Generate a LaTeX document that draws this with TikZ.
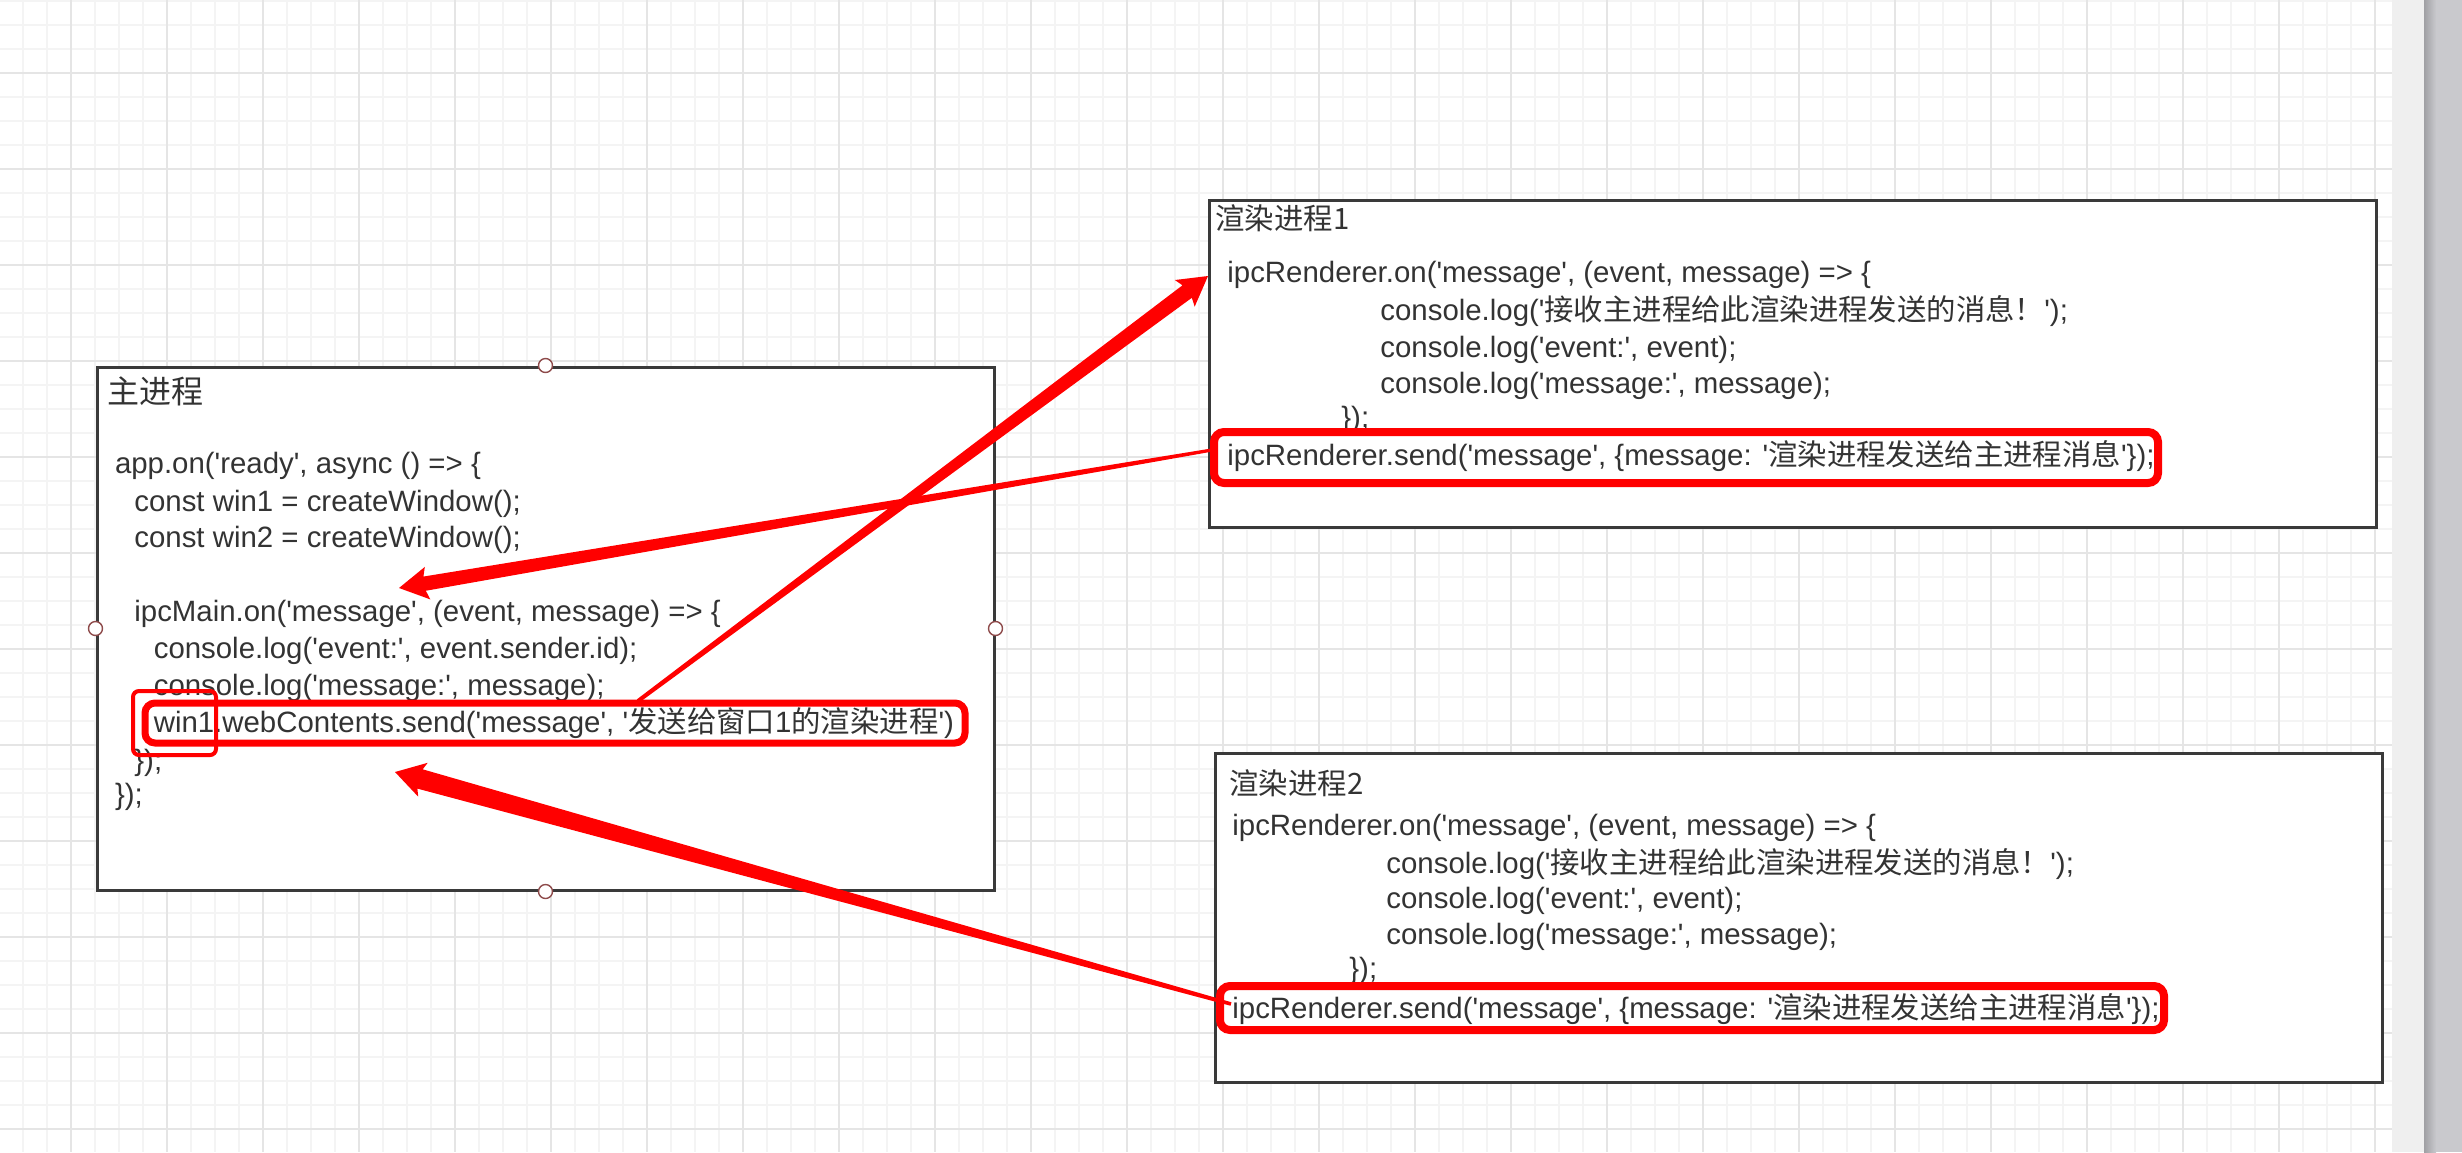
\documentclass[tikz,border=0pt]{standalone}
\usepackage{fontspec}
\newfontfamily\lat{Liberation Sans}
\newfontfamily\cjk{Noto Sans CJK SC}
\usetikzlibrary{calc}
\definecolor{gminor}{HTML}{F4F4F4}
\definecolor{gmajor}{HTML}{E5E5E5}
\definecolor{boxline}{HTML}{3A3A3A}
\definecolor{txt}{HTML}{333333}
\definecolor{hred}{HTML}{FF0000}
\definecolor{handle}{HTML}{8E4B4B}
\definecolor{band}{HTML}{EFEFEF}
\definecolor{scroll}{HTML}{C9C9CD}
\definecolor{scrollsh}{HTML}{A0A0A4}
\newcommand\cdf{\lat\fontsize{14.7}{17}\selectfont}
\newcommand\ttlf{\cjk\fontsize{14.7}{17}\selectfont}
\newcommand\mttlf{\cjk\fontsize{16}{18}\selectfont}
\newcommand\taperarrow[6]{%
  \coordinate (#6n) at ($(#2)!13pt!(#1)$);
  \coordinate (#6b) at ($(#2)!14.5pt!(#1)$);
  \fill[hred] ($(#1)!#3!90:(#2)$) -- ($(#6n)!#4!90:(#2)$) -- ($(#6b)!#5!90:(#2)$) -- (#2)
    -- ($(#6b)!#5!-90:(#2)$) -- ($(#6n)!#4!-90:(#2)$) -- ($(#1)!#3!-90:(#2)$) -- cycle;
}
\begin{document}
\begin{tikzpicture}[x=0.5pt,y=-0.5pt,
  procbox/.style={draw=boxline, line width=1.5pt, fill=white, inner sep=0pt},
  redbox/.style={draw=hred, line width=3.5pt, rounded corners=5pt, inner sep=0pt},
  thinred/.style={draw=hred, line width=2pt, rounded corners=3pt, inner sep=0pt},
  code/.style={anchor=base west, inner sep=0pt, text=txt, font=\cdf},
  ttl/.style={anchor=base west, inner sep=0pt, text=txt, font=\ttlf},
  handlept/.style={circle, draw=handle, fill=white, line width=0.7pt, minimum size=7pt, inner sep=0pt}]
\useasboundingbox (0,0) rectangle (2462,1152);
\fill[white] (0,0) rectangle (2462,1152);
% grid
\foreach \gx in {22.7,46.7,...,2392} \draw[gminor, line width=0.8pt] (\gx,0) -- (\gx,1152);
\foreach \gy in {0.7,24.7,...,1152} \draw[gminor, line width=0.8pt] (0,\gy) -- (2392,\gy);
\foreach \gx in {70.7,166.7,...,2392} \draw[gmajor, line width=1pt] (\gx,0) -- (\gx,1152);
\foreach \gy in {72.7,168.7,...,1152} \draw[gmajor, line width=1pt] (0,\gy) -- (2392,\gy);
% right band / scrollbar
\fill[band] (2392,0) rectangle (2424,1152);
\fill[scroll] (2424,0) rectangle (2462,1152);
\shade[left color=scrollsh, right color=scroll] (2424,0) rectangle (2436,1152);

% boxes
\node[procbox, minimum width=448.5pt, minimum height=261.5pt] (mainp) at (545.5,628.5) {};
\node[procbox, minimum width=583.5pt, minimum height=163.5pt] (rend1) at (1792.5,363.5) {};
\node[procbox, minimum width=583.5pt, minimum height=164.5pt] (rend2) at (1798.5,917.5) {};

% main process text
\node[anchor=base west, inner sep=0pt, text=txt, font=\mttlf] (mt) at (107,403) {主进程};
\node[code] (m1) at (114.6,473.6) {app.on('ready', async () => \{};
\node[code] (m2) at (134,511.5) {const win1 = createWindow();};
\node[code] (m3) at (134,547.7) {const win2 = createWindow();};
\node[code] (m4) at (134,621.7) {ipcMain.on('message', (event, message) => \{};
\node[code] (m5) at (153.4,658) {console.log('event:', event.sender.id);};
\node[code] (m6) at (153.4,695.7) {console.log('message:', message);};
\node[code] (m7) at (153.4,732) {win1.webContents.send('message', '{\cjk 发送给窗口}1{\cjk 的渲染进程}')};
\node[code] (m8) at (134,770) {\});};
\node[code] (m9) at (114.6,804) {\});};

% renderer 1 text
\node[ttl] (r1t) at (1215,229) {渲染进程1};
\node[code] (r11) at (1227,282) {ipcRenderer.on('message', (event, message) => \{};
\node[code] (r12) at (1380,320) {console.log('{\cjk 接收主进程给此渲染进程发送的消息！}');};
\node[code] (r13) at (1380,357) {console.log('event:', event);};
\node[code] (r14) at (1380,393) {console.log('message:', message);};
\node[code] (r15) at (1341,427) {\});};
\node[code] (r16) at (1227,465) {ipcRenderer.send('message', \{message: '{\cjk 渲染进程发送给主进程消息}'\});};

% renderer 2 text
\node[ttl] (r2t) at (1229,794) {渲染进程2};
\node[code] (r21) at (1232,835) {ipcRenderer.on('message', (event, message) => \{};
\node[code] (r22) at (1386,873) {console.log('{\cjk 接收主进程给此渲染进程发送的消息！}');};
\node[code] (r23) at (1386,908) {console.log('event:', event);};
\node[code] (r24) at (1386,944) {console.log('message:', message);};
\node[code] (r25) at (1349,978) {\});};
\node[code] (r26) at (1232,1018) {ipcRenderer.send('message', \{message: '{\cjk 渲染进程发送给主进程消息}'\});};

% red highlight boxes
\node[redbox, minimum width=410pt, minimum height=20pt] (msend) at (555,723) {};
\node[thinred, minimum width=41.5pt, minimum height=32pt] (mwin) at (174.5,723) {};
\node[redbox, line width=4pt, minimum width=472pt, minimum height=25.5pt] (r1send) at (1686,457.5) {};
\node[redbox, line width=4pt, minimum width=472pt, minimum height=22pt] (r2send) at (1692,1008) {};

% arrow end points
\coordinate (a1t) at (638,701);
\coordinate (a1h) at (1208,276);
\coordinate (a2t) at (1212,450);
\coordinate (a2h) at (399,588);
\coordinate (a3t) at (1231,1004);
\coordinate (a3h) at (395,772);

\taperarrow{a1t}{a1h}{1pt}{3.9pt}{8.3pt}{ar1}
\taperarrow{a2t}{a2h}{0.8pt}{3.6pt}{8.25pt}{ar2}
\taperarrow{a3t}{a3h}{0.9pt}{5pt}{8.8pt}{ar3}

% selection handles
\node[handlept] (hN) at (mainp.north) {};
\node[handlept] (hS) at (mainp.south) {};
\node[handlept] (hW) at (mainp.west) {};
\node[handlept] (hE) at (mainp.east) {};
\end{tikzpicture}
\end{document}
